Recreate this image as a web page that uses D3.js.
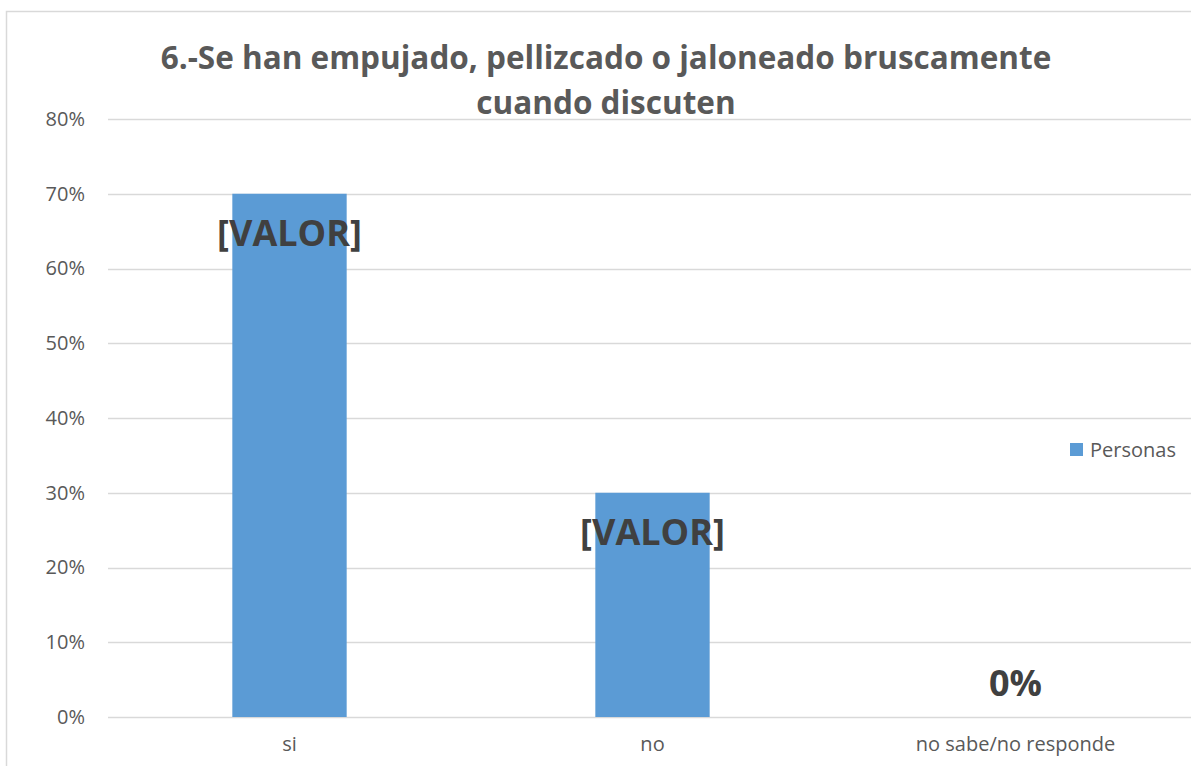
<!DOCTYPE html>
<html>
<head>
<meta charset="utf-8">
<script src="https://cdn.jsdelivr.net/npm/d3@7"></script>
<style>
  body { margin: 0; background: #fff; }
  text { font-family: "Open Sans", sans-serif; }
</style>
</head>
<body>
<div id="container"></div>
<script>
var categories = ['si', 'no', 'no sabe/no responde'];
var values = [0.70, 0.30, 0];
var valueLabels = ['[VALOR]', '[VALOR]', '0%'];
var yTicks = [0, 0.1, 0.2, 0.3, 0.4, 0.5, 0.6, 0.7, 0.8];
var titleLines = ['6.-Se han empujado, pellizcado o jaloneado bruscamente', 'cuando discuten'];
var seriesName = 'Personas';

var W = 1191, H = 766;
var margin = {left: 108, right: -6, top: 119, bottom: 49};

var svg = d3.select('#container').append('svg')
  .attr('width', W)
  .attr('height', H);

// chart border (runs off the right and bottom of the picture)
svg.append('rect')
  .attr('x', 6.5).attr('y', 11.5)
  .attr('width', W + 20).attr('height', H + 20)
  .attr('fill', 'none')
  .attr('stroke', '#d9d9d9')
  .attr('stroke-width', 1.5);

var x = d3.scaleBand()
  .domain(categories)
  .range([margin.left, W - margin.right])
  .paddingInner(0.685)
  .paddingOuter(0.3425);

var y = d3.scaleLinear()
  .domain([0, 0.8])
  .range([H - margin.bottom, margin.top]);

// gridlines
svg.append('g')
  .selectAll('line')
  .data(yTicks)
  .enter()
  .append('line')
  .attr('x1', margin.left)
  .attr('x2', W)
  .attr('y1', function(d) { return Math.round(y(d)) + 0.5; })
  .attr('y2', function(d) { return Math.round(y(d)) + 0.5; })
  .attr('stroke', '#d9d9d9')
  .attr('stroke-width', 1.5);

// y labels
var yAxis = svg.append('g')
  .attr('transform', 'translate(' + (margin.left - 23) + ',0)')
  .call(d3.axisLeft(y).tickValues(yTicks).tickFormat(d3.format('.0%')).tickSize(0).tickPadding(0));
yAxis.select('.domain').remove();
yAxis.selectAll('text')
  .attr('fill', '#595959')
  .style('font-size', '20px');

// x labels
var xAxis = svg.append('g')
  .attr('transform', 'translate(0,' + (H - margin.bottom) + ')')
  .call(d3.axisBottom(x).tickSize(0).tickPadding(20));
xAxis.select('.domain').remove();
xAxis.selectAll('text')
  .attr('fill', '#595959')
  .style('font-size', '20px');

// bars
svg.append('g')
  .selectAll('rect')
  .data(values)
  .enter()
  .append('rect')
  .attr('x', function(d, i) { return x(categories[i]); })
  .attr('y', function(d) { return y(d); })
  .attr('width', x.bandwidth())
  .attr('height', function(d) { return y(0) - y(d); })
  .attr('fill', '#5b9bd5');

// data labels
svg.append('g')
  .selectAll('text')
  .data(values)
  .enter()
  .append('text')
  .attr('x', function(d, i) { return x(categories[i]) + x.bandwidth() / 2; })
  .attr('y', function(d) { return d > 0 ? y(d) + 52 : y(d) - 21; })
  .attr('text-anchor', 'middle')
  .attr('fill', '#404040')
  .style('font-size', '36px')
  .style('font-weight', 'bold')
  .text(function(d, i) { return valueLabels[i]; });

// title
svg.append('g')
  .selectAll('text')
  .data(titleLines)
  .enter()
  .append('text')
  .attr('x', 606)
  .attr('y', function(d, i) { return 69 + i * 45; })
  .attr('text-anchor', 'middle')
  .attr('fill', '#595959')
  .style('font-size', '31.5px')
  .style('font-weight', 'bold')
  .text(function(d) { return d; });

// legend
var legend = svg.append('g').attr('transform', 'translate(1070,443)');
legend.append('rect')
  .attr('width', 13).attr('height', 13)
  .attr('fill', '#5b9bd5');
legend.append('text')
  .attr('x', 20).attr('y', 14)
  .attr('fill', '#595959')
  .style('font-size', '20px')
  .text(seriesName);
</script>
</body>
</html>
